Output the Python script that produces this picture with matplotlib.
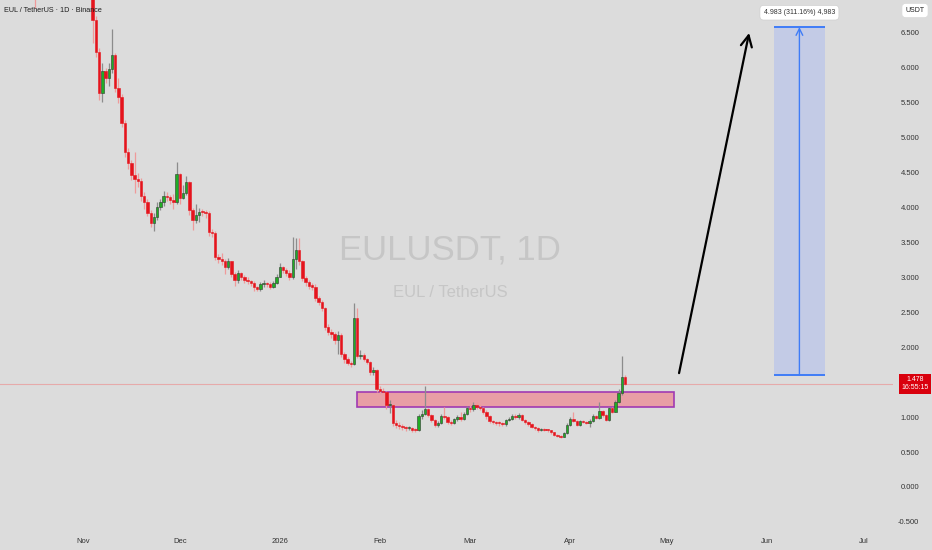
import matplotlib.pyplot as plt
import matplotlib.transforms as mtransforms
from matplotlib.patches import Rectangle
import numpy as np
import pandas as pd

plt.rcParams['font.family'] = ['Liberation Sans', 'DejaVu Sans']

# daily candles from 2025-10-17 (open of first candle given separately)
start_day = '2025-10-17'
first_open = 7.60
closes = [7.30, 7.55, 7.80, 7.62, 7.95, 8.20, 7.90, 7.70, 7.85, 7.60,
          7.45, 7.70, 7.52, 7.40, 7.55, 7.35, 7.28, 7.20,
          6.69, 6.23, 5.64, 5.96, 5.86, 5.98, 6.18, 5.71, 5.58, 5.21,
          4.80, 4.64, 4.47, 4.41, 4.38, 4.17, 4.08, 3.92, 3.78, 3.87,
          4.01, 4.08, 4.17, 4.15, 4.11, 4.08, 4.48, 4.14, 4.21, 4.37,
          3.97, 3.82, 3.89, 3.94, 3.93, 3.92, 3.65, 3.64, 3.29, 3.26,
          3.23, 3.15, 3.23, 3.05, 2.96, 3.06, 3.01, 2.96, 2.95, 2.92,
          2.86, 2.83, 2.91, 2.92, 2.91, 2.87, 2.92, 3.01, 3.15, 3.11,
          3.07, 3.01, 3.27, 3.39, 3.23, 2.99, 2.94, 2.88, 2.87, 2.70,
          2.65, 2.56, 2.29, 2.22, 2.19, 2.10, 2.18, 1.90, 1.83, 1.78,
          1.76, 2.42, 1.87, 1.89, 1.83, 1.79, 1.64, 1.67, 1.40, 1.38,
          1.36, 1.17, 1.18, 0.91, 0.89, 0.87, 0.86, 0.84, 0.84, 0.82,
          0.81, 1.02, 1.05, 1.11, 1.03, 0.96, 0.89, 0.91, 1.02, 1.00,
          0.93, 0.92, 0.97, 1.00, 0.98, 1.05, 1.13, 1.11, 1.17, 1.15,
          1.13, 1.08, 1.01, 0.94, 0.93, 0.92, 0.91, 0.90, 0.96, 0.98,
          1.02, 1.00, 1.03, 0.96, 0.93, 0.90, 0.86, 0.85, 0.81, 0.83,
          0.82, 0.81, 0.78, 0.75, 0.73, 0.72, 0.77, 0.89, 0.98, 0.95,
          0.89, 0.94, 0.93, 0.92, 0.95, 1.01, 0.99, 1.09, 1.03, 0.96,
          1.13, 1.08, 1.22, 1.34, 1.58, 1.478]
highs = [7.95, 7.70, 7.95, 7.90, 8.05, 8.40, 8.30, 7.98, 7.95, 7.92,
         7.65, 7.80, 7.78, 7.60, 7.65, 7.62, 7.45, 7.40,
         7.30, 6.75, 6.28, 6.07, 6.00, 6.07, 6.56, 6.21, 5.86, 5.62,
         5.25, 4.85, 4.68, 4.80, 4.50, 4.42, 4.22, 4.12, 3.97, 3.92,
         4.08, 4.12, 4.24, 4.22, 4.18, 4.20, 4.65, 4.50, 4.33, 4.45,
         4.38, 3.99, 4.05, 4.00, 3.98, 3.97, 3.95, 3.70, 3.66, 3.34,
         3.35, 3.27, 3.28, 3.24, 3.08, 3.10, 3.08, 3.03, 3.00, 2.97,
         2.95, 2.88, 2.94, 2.96, 2.94, 2.93, 2.95, 3.05, 3.20, 3.17,
         3.13, 3.10, 3.58, 3.56, 3.56, 3.25, 3.02, 2.96, 2.92, 2.90,
         2.74, 2.68, 2.58, 2.33, 2.26, 2.22, 2.24, 2.20, 1.93, 1.86,
         1.80, 2.64, 2.56, 1.96, 1.92, 1.85, 1.81, 1.72, 1.69, 1.45,
         1.42, 1.38, 1.24, 1.18, 0.96, 0.93, 0.90, 0.88, 0.87, 0.86,
         0.84, 1.05, 1.10, 1.45, 1.13, 1.05, 0.98, 0.94, 1.05, 1.15,
         1.01, 0.96, 0.99, 1.03, 1.07, 1.08, 1.16, 1.17, 1.22, 1.21,
         1.18, 1.15, 1.10, 1.03, 0.96, 0.95, 0.94, 0.93, 0.98, 1.00,
         1.05, 1.04, 1.06, 1.04, 0.98, 0.95, 0.91, 0.88, 0.86, 0.85,
         0.84, 0.83, 0.82, 0.79, 0.76, 0.74, 0.79, 0.91, 1.00, 1.07,
         0.96, 0.96, 0.96, 0.95, 0.97, 1.04, 1.03, 1.21, 1.10, 1.05,
         1.15, 1.14, 1.24, 1.40, 1.87, 1.60]
lows = [6.86, 7.25, 7.50, 7.45, 7.55, 7.85, 7.75, 7.55, 7.62, 7.50,
        7.30, 7.40, 7.40, 7.28, 7.30, 7.22, 7.15, 7.05,
        6.35, 6.15, 5.54, 5.51, 5.78, 5.74, 5.92, 5.66, 5.50, 5.15,
        4.72, 4.55, 4.40, 4.21, 4.30, 4.10, 3.98, 3.88, 3.72, 3.66,
        3.82, 3.97, 4.02, 4.10, 4.05, 3.98, 4.05, 4.05, 4.12, 4.18,
        3.90, 3.68, 3.78, 3.80, 3.88, 3.85, 3.60, 3.58, 3.25, 3.20,
        3.18, 3.05, 3.12, 3.00, 2.88, 2.92, 2.96, 2.92, 2.90, 2.88,
        2.80, 2.80, 2.81, 2.87, 2.86, 2.84, 2.85, 2.90, 3.00, 3.07,
        3.02, 2.97, 2.98, 3.12, 3.18, 2.95, 2.88, 2.84, 2.82, 2.66,
        2.60, 2.52, 2.25, 2.18, 2.14, 2.05, 1.90, 1.86, 1.78, 1.74,
        1.72, 1.74, 1.84, 1.83, 1.80, 1.76, 1.60, 1.60, 1.36, 1.33,
        1.32, 1.12, 1.06, 0.88, 0.84, 0.83, 0.82, 0.80, 0.81, 0.79,
        0.78, 0.80, 0.98, 1.03, 1.00, 0.93, 0.86, 0.86, 0.90, 0.97,
        0.90, 0.89, 0.90, 0.95, 0.95, 0.96, 1.03, 1.08, 1.09, 1.12,
        1.10, 1.05, 0.98, 0.92, 0.90, 0.89, 0.88, 0.87, 0.88, 0.94,
        0.96, 0.98, 0.98, 0.94, 0.90, 0.88, 0.84, 0.82, 0.79, 0.80,
        0.80, 0.79, 0.76, 0.73, 0.71, 0.70, 0.71, 0.76, 0.87, 0.93,
        0.87, 0.88, 0.91, 0.90, 0.86, 0.93, 0.97, 0.98, 1.00, 0.94,
        0.95, 1.06, 1.07, 1.20, 1.32, 1.46]

last_price = 1.478
countdown = '16:55:15'
zone = ('2026-01-25', '2026-05-03', 1.145, 1.36)
target_box = ('2026-06-03', '2026-06-19', 1.601, 6.584)
target_text = '4.983 (311.16%) 4,983'
arrow_from = ('2026-05-04 17:00', 1.63)
arrow_to = ('2026-05-26 10:00', 6.50)
month_ticks = ['2025-11-01', '2025-12-01', '2026-01-01', '2026-02-01', '2026-03-01',
               '2026-04-01', '2026-05-01', '2026-06-01', '2026-07-01']
month_labels = ['Nov', 'Dec', '2026', 'Feb', 'Mar', 'Apr', 'May', 'Jun', 'Jul']
price_ticks = [-0.5, 0.0, 0.5, 1.0, 2.0, 2.5, 3.0, 3.5, 4.0, 4.5, 5.0, 5.5, 6.0, 6.5]

bg = '#dcdcdc'
up_col, down_col = '#20ad24', '#e5141d'

dates = pd.date_range(start_day, periods=len(closes), freq='D')
c = np.array(closes)
o = np.array([first_open] + closes[:-1])
h = np.array(highs)
l = np.array(lows)
up = c >= o

fig = plt.figure(figsize=(9.32, 5.5), dpi=100, facecolor=bg)
ax = fig.add_axes([0, 20 / 550, 893 / 932, 530 / 550])
ax.set_facecolor(bg)
for s in ax.spines.values():
    s.set_visible(False)

nov1 = pd.Timestamp('2025-11-01')
ax.set_xlim(nov1 - pd.Timedelta(days=25.7), nov1 + pd.Timedelta(days=251.0))
ax.set_ylim(-0.616, 6.972)

# watermark
ax.text(0.504, 0.528, 'EULUSDT, 1D', transform=ax.transAxes, ha='center', va='center',
        fontsize=25, color='#c6c6c6', zorder=0)
ax.text(0.504, 0.449, 'EUL / TetherUS', transform=ax.transAxes, ha='center', va='center',
        fontsize=12, color='#c6c6c6', zorder=0)

# current price line
ax.axhline(last_price, color='#e6aaaa', lw=0.8, zorder=1)

# support zone (under the candles)
z0, z1 = pd.Timestamp(zone[0]), pd.Timestamp(zone[1])
ax.add_patch(Rectangle((z0, zone[2]), z1 - z0, zone[3] - zone[2], facecolor='#e89ea5',
                       edgecolor='#a13ab3', lw=1.2, zorder=1.5))

# candles
wick_cols = np.where(up, '#8c8c8c', '#ef9a9a')
ax.vlines(dates, l, h, colors=wick_cols, lw=0.9, zorder=2)
body_bottom = np.minimum(o, c)
body_h = np.maximum(np.abs(c - o), 0.015)
ax.bar(dates[up], body_h[up], bottom=body_bottom[up], width=0.75,
       color=up_col, edgecolor='#2f3a2f', linewidth=0.4, zorder=3)
ax.bar(dates[~up], body_h[~up], bottom=body_bottom[~up], width=0.75,
       color=down_col, edgecolor=down_col, linewidth=0.4, zorder=3)

# target box
b0, b1 = pd.Timestamp(target_box[0]), pd.Timestamp(target_box[1])
ax.add_patch(Rectangle((b0, target_box[2]), b1 - b0, target_box[3] - target_box[2],
                       facecolor='#c3cbe6', edgecolor='none', zorder=2))
ax.hlines([target_box[2], target_box[3]], b0, b1, colors='#3f7cf7', lw=1.4, zorder=3)
bm = b0 + (b1 - b0) / 2
ax.annotate('', xy=(bm, target_box[3]), xytext=(bm, target_box[2]),
            arrowprops=dict(arrowstyle='->', color='#3f7cf7', lw=1.0,
                            mutation_scale=12, shrinkA=0, shrinkB=0), zorder=3)
ax.text(bm, 6.79, target_text, ha='center', va='center', fontsize=5, color='#333333',
        bbox=dict(boxstyle='round,pad=0.55', fc='white', ec='#cfcfcf', lw=0.5), zorder=5)

# projection arrow
ax.annotate('', xy=(pd.Timestamp(arrow_to[0]), arrow_to[1]),
            xytext=(pd.Timestamp(arrow_from[0]), arrow_from[1]),
            arrowprops=dict(arrowstyle='->', color='black', lw=1.6,
                            mutation_scale=20, shrinkA=0, shrinkB=0), zorder=5)

# axes labels
ax.set_xticks(pd.to_datetime(month_ticks))
ax.set_xticklabels(month_labels)
ax.tick_params(axis='x', length=0, pad=6, labelsize=5.5, labelcolor='#333333')
ax.yaxis.tick_right()
ax.set_yticks(price_ticks)
ax.set_yticklabels([f'{v:.3f}' for v in price_ticks])
ax.tick_params(axis='y', length=0, pad=19, labelsize=5.5, labelcolor='#333333')
for lab in ax.get_yticklabels():
    lab.set_ha('right')

# title
fig.text(4 / 932, 1 - 10 / 550, 'EUL / TetherUS · 1D · Binance', ha='left', va='center',
         fontsize=5.2, color='#1e1e1e')

# axis badges
fig.text(915 / 932, 1 - 10.5 / 550, 'USDT', ha='center', va='center', fontsize=5,
         color='#222222', bbox=dict(boxstyle='round,pad=0.45', fc='white', ec='none'))
tr = mtransforms.blended_transform_factory(fig.transFigure, ax.transData)
ax.text(915 / 932, last_price, f'{last_price:.3f}\n{countdown}', transform=tr, ha='center',
        va='center', fontsize=5, color='white', linespacing=1.15, clip_on=False,
        bbox=dict(boxstyle='square,pad=0.35', fc='#d9000d', ec='none'), zorder=6)

fig.savefig('out.png', dpi=100, facecolor=bg)
